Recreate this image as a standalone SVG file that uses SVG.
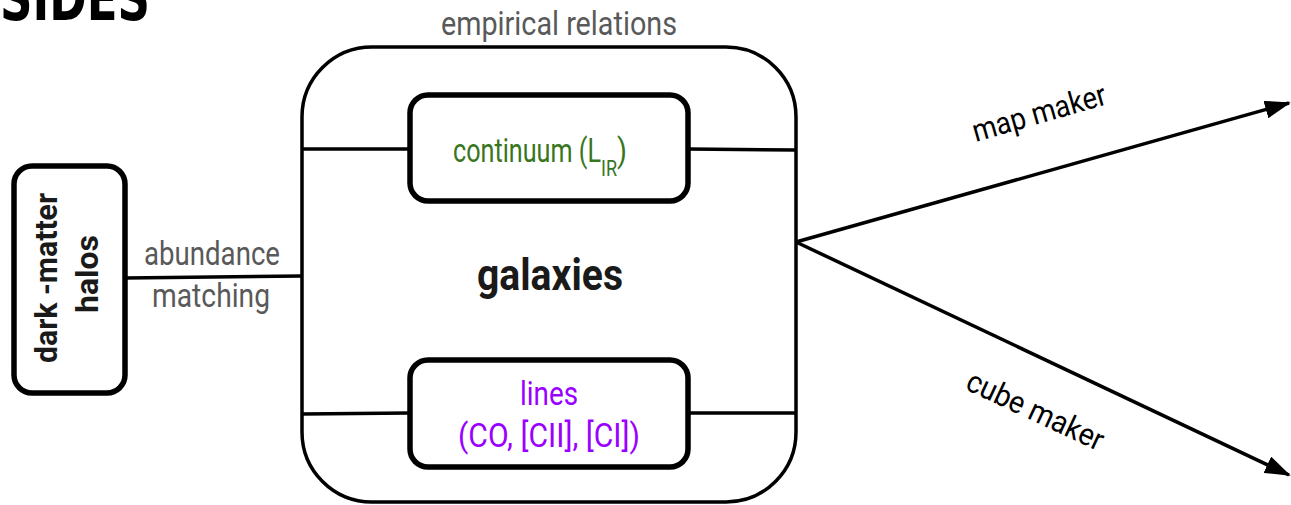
<svg xmlns="http://www.w3.org/2000/svg" width="1291" height="505" viewBox="0 0 1291 505">
<style>
.box{fill:#fff;stroke:#000;stroke-width:5.5}
.outer{fill:#fff;stroke:#000;stroke-width:3.5}
.ln{stroke:#000;stroke-width:3.5;fill:none}
.gray{font-family:Roboto,"Liberation Sans",sans-serif;fill:#595959;font-size:34px;text-anchor:middle}
.lbl{font-family:Roboto,"Liberation Sans",sans-serif;fill:#000;font-size:31px;text-anchor:middle}
.bold{font-family:Roboto,"Liberation Sans",sans-serif;font-weight:bold;fill:#1a1a1a;text-anchor:middle}
</style>
<defs>
<marker id="arr" viewBox="0 0 26 18" refX="24" refY="9" markerWidth="26" markerHeight="18" orient="auto" markerUnits="userSpaceOnUse">
<path d="M0,0 L26,9 L0,18 z" fill="#000"/>
</marker>
</defs>
<text x="0" y="20" font-family="DejaVu Sans,sans-serif" font-weight="bold" font-size="62" textLength="150" lengthAdjust="spacingAndGlyphs" fill="#000">SIDES</text>
<g id="galaxies">
<rect class="outer" x="302" y="47" width="494" height="455" rx="70" ry="70"/>
<text class="bold" x="550" y="290" font-size="44" textLength="146" lengthAdjust="spacingAndGlyphs">galaxies</text>
</g>
<g id="connectors">
<line class="ln" x1="302" y1="149" x2="410" y2="149"/>
<line class="ln" x1="688" y1="149" x2="796" y2="150"/>
<line class="ln" x1="302" y1="414" x2="410" y2="413"/>
<line class="ln" x1="688" y1="413" x2="796" y2="413"/>
<line class="ln" x1="125" y1="278" x2="302" y2="276"/>
<line class="ln" x1="796" y1="242" x2="1289" y2="103" marker-end="url(#arr)"/>
<line class="ln" x1="796" y1="242" x2="1289" y2="475" marker-end="url(#arr)"/>
<text class="gray" x="212" y="265" textLength="136" lengthAdjust="spacingAndGlyphs">abundance</text>
<text class="gray" x="211" y="307" textLength="118" lengthAdjust="spacingAndGlyphs">matching</text>
<text class="gray" x="559" y="35" textLength="236" lengthAdjust="spacingAndGlyphs">empirical relations</text>
<text class="lbl" transform="translate(1042,123) rotate(-16)" textLength="138" lengthAdjust="spacingAndGlyphs">map maker</text>
<text class="lbl" transform="translate(1031,420) rotate(25)" textLength="148" lengthAdjust="spacingAndGlyphs">cube maker</text>
</g>
<g id="halos">
<rect class="box" x="14" y="166" width="111" height="227" rx="18" ry="18"/>
<text class="bold" font-size="32" transform="translate(57,278) rotate(-90)" textLength="170" lengthAdjust="spacingAndGlyphs">dark -matter</text>
<text class="bold" font-size="32" transform="translate(98,274) rotate(-90)" textLength="78" lengthAdjust="spacingAndGlyphs">halos</text>
</g>
<g id="continuum">
<rect class="box" x="410" y="95" width="278" height="106" rx="18" ry="18"/>
<text x="453" y="162" font-family="Roboto,'Liberation Sans',sans-serif" font-size="34" fill="#38761d"><tspan textLength="148" lengthAdjust="spacingAndGlyphs">continuum (L</tspan><tspan font-size="22" dy="14" textLength="16" lengthAdjust="spacingAndGlyphs">IR</tspan><tspan dy="-14" textLength="10" lengthAdjust="spacingAndGlyphs">)</tspan></text>
</g>
<g id="lines">
<rect class="box" x="410" y="360" width="278" height="107" rx="18" ry="18"/>
<text x="549" y="405" font-family="Roboto,'Liberation Sans',sans-serif" font-size="34" fill="#9900ff" text-anchor="middle" textLength="58" lengthAdjust="spacingAndGlyphs">lines</text>
<text x="549" y="447" font-family="Roboto,'Liberation Sans',sans-serif" font-size="34" fill="#9900ff" text-anchor="middle" textLength="182" lengthAdjust="spacingAndGlyphs">(CO, [CII], [CI])</text>
</g>
</svg>
